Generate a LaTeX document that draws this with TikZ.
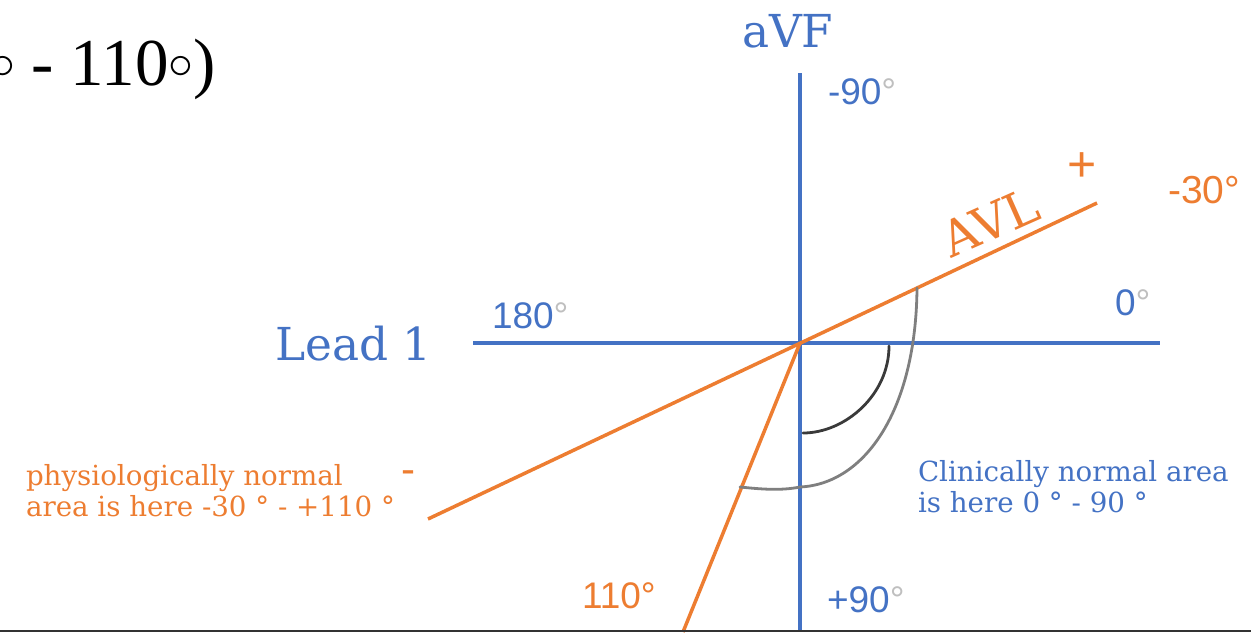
\documentclass[tikz,border=0pt]{standalone}
\usepackage{fontspec}
\usepackage{xcolor}
\setmainfont{DejaVu Serif}
\newfontfamily\sansf{Liberation Sans}
\newfontfamily\timesf{Liberation Serif}
\newfontfamily\slabf{DejaVu Serif}
\definecolor{ecgblue}{HTML}{4472C4}
\definecolor{ecgorange}{HTML}{ED7D31}
\definecolor{deggray}{HTML}{BFBFBF}
\definecolor{arcdark}{HTML}{3A3A3A}
\definecolor{arcgray}{HTML}{7F7F7F}
\newcommand{\gdeg}{\textcolor{deggray}{°}}
\newcommand{\ringsym}{\raisebox{0.1em}{$\scriptstyle\circ$}}
\begin{document}
\begin{tikzpicture}[x=0.5pt,y=-0.5pt,
  blueline/.style={draw=ecgblue, line width=2pt},
  orangeline/.style={draw=ecgorange, line width=1.75pt},
  lbl/.style={inner sep=0pt, outer sep=0pt, anchor=base west},
  sanslbl/.style={lbl, font=\sansf\fontsize{18.5}{22}\selectfont},
  bluelbl/.style={sanslbl, text=ecgblue},
  orangelbl/.style={sanslbl, text=ecgorange},
  leadlbl/.style={lbl, font=\slabf\fontsize{22.7}{26}\selectfont},
  notelbl/.style={lbl, align=left, font=\slabf\fontsize{13.85}{15.2}\selectfont}]
\useasboundingbox (0,0) rectangle (1251,632);
\clip (0,0) rectangle (1251,632);
% coordinates
\coordinate (O) at (800,343);
\coordinate (vtop) at (800,73);
\coordinate (vbot) at (800,632);
\coordinate (hl) at (473,343);
\coordinate (hr) at (1160,343);
\coordinate (avlA) at (428,519);
\coordinate (avlB) at (1097,203);
\coordinate (l110) at (683,632);
\coordinate (bl) at (0,631);
\coordinate (br) at (1251,631);
\coordinate (darkA) at (889,346);
\coordinate (darkB) at (803,433);
\coordinate (grayA) at (917,288);
\coordinate (grayM) at (800,487);
\coordinate (grayB) at (740,487);
% axes
\draw[blueline] (vtop) -- (vbot);
\draw[blueline] (hl) -- (hr);
\draw[orangeline] (avlA) -- (avlB);
\draw[orangeline] (O) -- (l110);
\draw[black!80, line width=0.9pt] (bl) -- (br);
% arcs
\draw[arcdark, line width=1.4pt, line cap=round] (darkA) .. controls (889,395) and (845,433) .. (darkB);
\draw[arcgray, line width=1.4pt, line cap=round] (grayA) .. controls (916,410) and (865,484) .. (grayM) .. controls (780,491) and (760,489) .. (grayB);
% title fragment
\node[inner sep=0pt, outer sep=0pt, anchor=base east, font=\timesf\fontsize{33.5}{40}\selectfont] (title) at (216,85) {\ringsym\ - 110\ringsym)};
% lead names
\node[leadlbl, text=ecgblue] (avf) at (742,47) {aVF};
\node[leadlbl, text=ecgblue] (lead1) at (275,360) {Lead 1};
\node[inner sep=0pt, outer sep=0pt, rotate=24, text=ecgorange, font=\slabf\fontsize{24.5}{28}\selectfont] (avl) at (990,222) {AVL};
% degree labels
\node[bluelbl] (m90) at (828,104) {-90\gdeg};
\node[bluelbl] (d180) at (492,328) {180\gdeg};
\node[bluelbl] (d0) at (1115,315) {0\gdeg};
\node[bluelbl] (p90) at (827,612) {+90\gdeg};
\node[orangelbl] (d110) at (582,608) {110°};
\node[orangelbl, font=\sansf\fontsize{19.5}{22}\selectfont] (m30) at (1168,203) {-30°};
\node[inner sep=0pt, outer sep=0pt, text=ecgorange, font=\sansf\fontsize{25}{28}\selectfont] (plus) at (1082,167) {+};
\node[inner sep=0pt, outer sep=0pt, text=ecgorange, font=\sansf\fontsize{21}{24}\selectfont] (minus) at (408,477) {-};
% notes
\node[notelbl, text=ecgorange] (phys) at (26,516) {physiologically normal\\area is here -30 ° - +110 °};
\node[notelbl, text=ecgblue] (clin) at (918,512) {Clinically normal area\\is here 0 ° - 90 °};
\end{tikzpicture}
\end{document}
